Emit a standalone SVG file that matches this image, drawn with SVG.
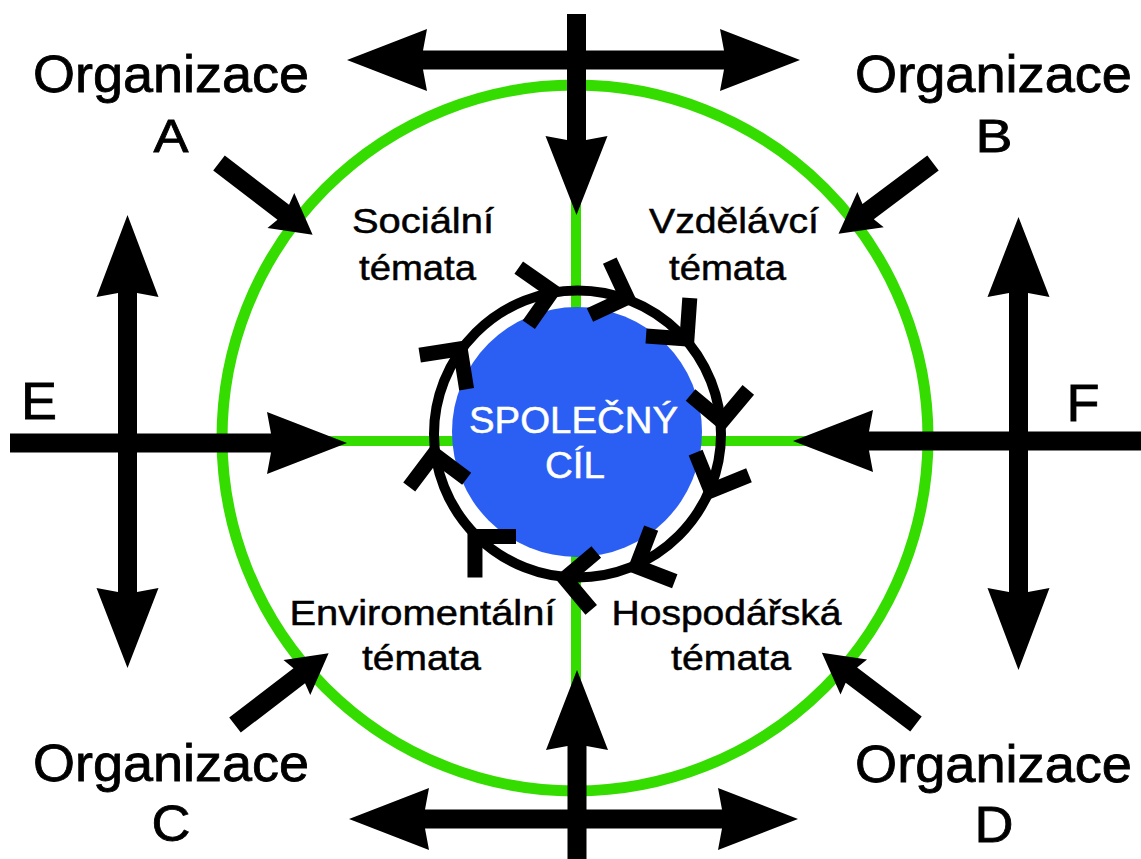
<svg xmlns="http://www.w3.org/2000/svg" xmlns:xlink="http://www.w3.org/1999/xlink" width="1141" height="859" viewBox="0 0 1141 859">
  <style>
    .frame { fill: none; stroke: #35dc00; stroke-width: 11; }
    .spoke { stroke: #35dc00; stroke-width: 10; }
    .arrow { fill: #000; }
    .ring { fill: none; stroke: #000; stroke-width: 10; }
    .chev { fill: none; stroke: #000; stroke-width: 15; stroke-linejoin: miter; stroke-linecap: butt; }
    .org { font-family: "Liberation Sans", Arial, sans-serif; fill: #000; stroke: #000; stroke-width: 0.8; text-anchor: middle; }
    .theme { font-family: "Liberation Sans", Arial, sans-serif; font-size: 35px; fill: #000; stroke: #000; stroke-width: 0.5; text-anchor: middle; }
    .goal-text { font-family: "Liberation Sans", Arial, sans-serif; font-size: 36px; fill: #fff; stroke: #fff; stroke-width: 0.5; text-anchor: middle; }
  </style>
  <defs>
    <!-- short inbound arrow: tail at origin, tip at x=118 -->
    <path id="arrow-short" d="M0,-9.5 H81 L78,-22 L118,0 L78,22 L81,9.5 H0 Z"/>
    <!-- open arrowhead on the cycle ring, vertex at origin pointing +x -->
    <polyline id="chev" class="chev" points="-29,-29 0,0 -29,29"/>
  </defs>

  <rect width="1141" height="859" fill="#fff"/>

  <!-- outer green circle split into four theme sectors -->
  <g id="frame">
    <line class="spoke" x1="576" y1="85" x2="576" y2="791"/>
    <line class="spoke" x1="222" y1="441" x2="928" y2="441"/>
    <circle class="frame" cx="575" cy="438" r="353"/>
  </g>

  <!-- shared goal in the centre -->
  <g id="goal">
    <circle cx="577" cy="432" r="125" fill="#2b5ff4"/>
    <text class="goal-text" x="573.5" y="433" textLength="209" lengthAdjust="spacingAndGlyphs">SPOLEČNÝ</text>
    <text class="goal-text" x="575" y="478" textLength="60" lengthAdjust="spacingAndGlyphs">CÍL</text>
  </g>

  <!-- clockwise cycle around the goal: ring centre (577.5, 434), radius 143.5 -->
  <g id="cycle">
    <circle class="ring" cx="577.5" cy="434" r="143.5"/>
    <use href="#chev" transform="translate(577.5 434) rotate(260) translate(145 0) rotate(90)"/>
    <use href="#chev" transform="translate(577.5 434) rotate(290) translate(145 0) rotate(90)"/>
    <use href="#chev" transform="translate(577.5 434) rotate(319) translate(145 0) rotate(90)"/>
    <use href="#chev" transform="translate(577.5 434) rotate(355) translate(145 0) rotate(90)"/>
    <use href="#chev" transform="translate(577.5 434) rotate(23) translate(145 0) rotate(90)"/>
    <use href="#chev" transform="translate(577.5 434) rotate(66) translate(145 0) rotate(90)"/>
    <use href="#chev" transform="translate(577.5 434) rotate(95) translate(145 0) rotate(90)"/>
    <use href="#chev" transform="translate(577.5 434) rotate(135) translate(145 0) rotate(90)"/>
    <use href="#chev" transform="translate(577.5 434) rotate(172) translate(145 0) rotate(90)"/>
    <use href="#chev" transform="translate(577.5 434) rotate(216) translate(145 0) rotate(90)"/>
  </g>

  <!-- theme sectors -->
  <g id="theme-social">
    <text class="theme" x="423" y="233" textLength="142" lengthAdjust="spacingAndGlyphs">Sociální</text>
    <text class="theme" x="417.5" y="280" textLength="117" lengthAdjust="spacingAndGlyphs">témata</text>
  </g>
  <g id="theme-education">
    <text class="theme" x="734" y="233" textLength="170" lengthAdjust="spacingAndGlyphs">Vzdělávcí</text>
    <text class="theme" x="727.5" y="280" textLength="117" lengthAdjust="spacingAndGlyphs">témata</text>
  </g>
  <g id="theme-environment">
    <text class="theme" x="422.5" y="625" textLength="266" lengthAdjust="spacingAndGlyphs">Enviromentální</text>
    <text class="theme" x="421.5" y="670" textLength="119" lengthAdjust="spacingAndGlyphs">témata</text>
  </g>
  <g id="theme-economy">
    <text class="theme" x="726.5" y="625" textLength="230" lengthAdjust="spacingAndGlyphs">Hospodářská</text>
    <text class="theme" x="731" y="670" textLength="120" lengthAdjust="spacingAndGlyphs">témata</text>
  </g>

  <!-- organisations -->
  <g id="org-a">
    <text class="org" x="171" y="92" font-size="52" textLength="276" lengthAdjust="spacingAndGlyphs">Organizace</text>
    <text class="org" x="171" y="152" font-size="46" textLength="35" lengthAdjust="spacingAndGlyphs">A</text>
  </g>
  <g id="org-b">
    <text class="org" x="993.5" y="92" font-size="52" textLength="277" lengthAdjust="spacingAndGlyphs">Organizace</text>
    <text class="org" x="994" y="152" font-size="46" textLength="37" lengthAdjust="spacingAndGlyphs">B</text>
  </g>
  <g id="org-c">
    <text class="org" x="171" y="781" font-size="52" textLength="276" lengthAdjust="spacingAndGlyphs">Organizace</text>
    <text class="org" x="171" y="841" font-size="50" textLength="39" lengthAdjust="spacingAndGlyphs">C</text>
  </g>
  <g id="org-d">
    <text class="org" x="993.5" y="782" font-size="52" textLength="277" lengthAdjust="spacingAndGlyphs">Organizace</text>
    <text class="org" x="994" y="842" font-size="50" textLength="39" lengthAdjust="spacingAndGlyphs">D</text>
  </g>
  <g id="org-e">
    <text class="org" x="39" y="419" font-size="51" textLength="36" lengthAdjust="spacingAndGlyphs">E</text>
  </g>
  <g id="org-f">
    <text class="org" x="1083" y="421" font-size="51" textLength="33" lengthAdjust="spacingAndGlyphs">F</text>
  </g>

  <!-- connectors -->
  <g id="connectors" class="arrow">
    <!-- top: double arrow and inbound arrow -->
    <polygon points="347,60 427,29 423,50.5 724,50.5 720,29 800,60 720,91 724,69.5 423,69.5 427,91"/>
    <polygon points="567,14 586,14 586,140 607.5,136 576.5,215 545.5,136 567,140"/>
    <!-- bottom: double arrow and inbound arrow -->
    <polygon points="349,819 429,788 425,809.5 722,809.5 718,788 798,819 718,850 722,828.5 425,828.5 429,850"/>
    <polygon points="567.5,859 586.5,859 586.5,746 608,750 577,670 546,750 567.5,746"/>
    <!-- left: E inbound and vertical double arrow -->
    <polygon points="10,433.5 271,433.5 267,412 347,443 267,474 271,452.5 10,452.5"/>
    <polygon points="127.5,215 158.5,297 137,293 137,592 158.5,588 127.5,668 96.5,588 118,592 118,293 96.5,297"/>
    <!-- right: F inbound and vertical double arrow -->
    <polygon points="1141,431.5 869,431.5 873,410 793,441 873,472 869,450.5 1141,450.5"/>
    <polygon points="1018.5,217 1049.5,297 1028,293 1028,592 1049.5,588 1018.5,670 987.5,588 1009,592 1009,293 987.5,297"/>
    <!-- diagonal inbound arrows from the organisations -->
    <use href="#arrow-short" transform="translate(219 163) rotate(37.5)"/>
    <use href="#arrow-short" transform="translate(933 163) rotate(143.2)"/>
    <use href="#arrow-short" transform="translate(235 725) rotate(-37.5)"/>
    <use href="#arrow-short" transform="translate(916 724) rotate(-142.9)"/>
  </g>
</svg>
